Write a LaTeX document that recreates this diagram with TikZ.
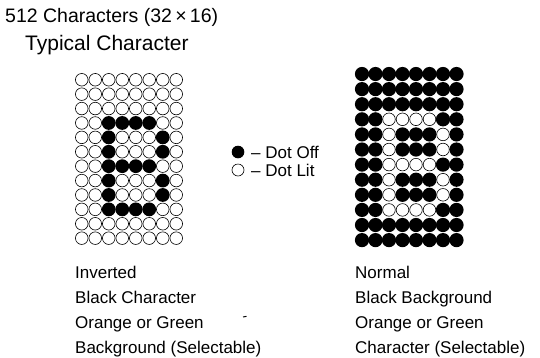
\documentclass[tikz,border=0pt]{standalone}
\usepackage{fontspec}
\setmainfont{Liberation Sans}
\begin{document}
\begin{tikzpicture}[x=1pt,y=-1pt]
\tikzset{
  openDot/.style={draw=black, line width=0.6pt, fill=white},
  fullDot/.style={fill=black},
  lbl/.style={anchor=base west, inner sep=0pt, font=\fontsize{17}{20}\selectfont},
  head/.style={anchor=base west, inner sep=0pt, font=\fontsize{19.5}{22}\selectfont},
}
\useasboundingbox[fill=white] (0,0) rectangle (540,357);
\def\Bpattern{0/0/0/0/0/0/0/0/0, 1/0/0/0/0/0/0/0/0, 2/0/0/0/0/0/0/0/0,
  3/0/0/1/1/1/1/0/0, 4/0/0/1/0/0/0/1/0, 5/0/0/1/0/0/0/1/0,
  6/0/0/1/1/1/1/0/0, 7/0/0/1/0/0/0/1/0, 8/0/0/1/0/0/0/1/0,
  9/0/0/1/1/1/1/0/0, 10/0/0/0/0/0/0/0/0, 11/0/0/0/0/0/0/0/0}
% left grid (inverted): B pattern = filled
\foreach \rr/\pa/\pb/\pc/\pd/\pe/\pf/\pg/\ph in \Bpattern {
  \foreach \cc/\vv in {0/\pa,1/\pb,2/\pc,3/\pd,4/\pe,5/\pf,6/\pg,7/\ph} {
    \pgfmathsetmacro\xx{81.75+13.5*\cc}
    \pgfmathsetmacro\yy{79.75+14.4*\rr}
    \ifnum\vv=1
      \fill[fullDot] (\xx,\yy) circle (6.9);
    \else
      \draw[openDot] (\xx,\yy) circle (6.3);
    \fi
  }
}
% right grid (normal): B pattern = open
\foreach \rr/\pa/\pb/\pc/\pd/\pe/\pf/\pg/\ph in \Bpattern {
  \foreach \cc/\vv in {0/\pa,1/\pb,2/\pc,3/\pd,4/\pe,5/\pf,6/\pg,7/\ph} {
    \pgfmathsetmacro\xx{362+13.5*\cc}
    \pgfmathsetmacro\yy{74+15.1*\rr}
    \ifnum\vv=1
      \draw[openDot] (\xx,\yy) circle (6.3);
    \else
      \fill[fullDot] (\xx,\yy) circle (7.1);
    \fi
  }
}
% titles
\node[head] (title) at (5,22) {512 Characters (32\,×\,16)};
\node[head, font=\fontsize{21}{24}\selectfont] (typ) at (25,50) {Typical Character};
% legend
\fill[fullDot] (238,152) circle (6.3);
\draw[openDot] (238,170) circle (6);
\node[lbl] (off) at (251,158) {– Dot Off};
\node[lbl] (lit) at (251,176) {– Dot Lit};
% captions
\node[lbl] (l1) at (75,278) {Inverted};
\node[lbl] (l2) at (75,303) {Black Character};
\node[lbl] (l3) at (75,328) {Orange or Green};
\node[lbl] (l4) at (75,353) {Background (Selectable)};
\node[lbl] (r1) at (355,278) {Normal};
\node[lbl] (r2) at (355,303) {Black Background};
\node[lbl] (r3) at (355,328) {Orange or Green};
\node[lbl] (r4) at (355,353) {Character (Selectable)};
% small stray mark
\draw[line width=1pt] (243,317) -- (246.5,316.3);
\end{tikzpicture}
\end{document}
